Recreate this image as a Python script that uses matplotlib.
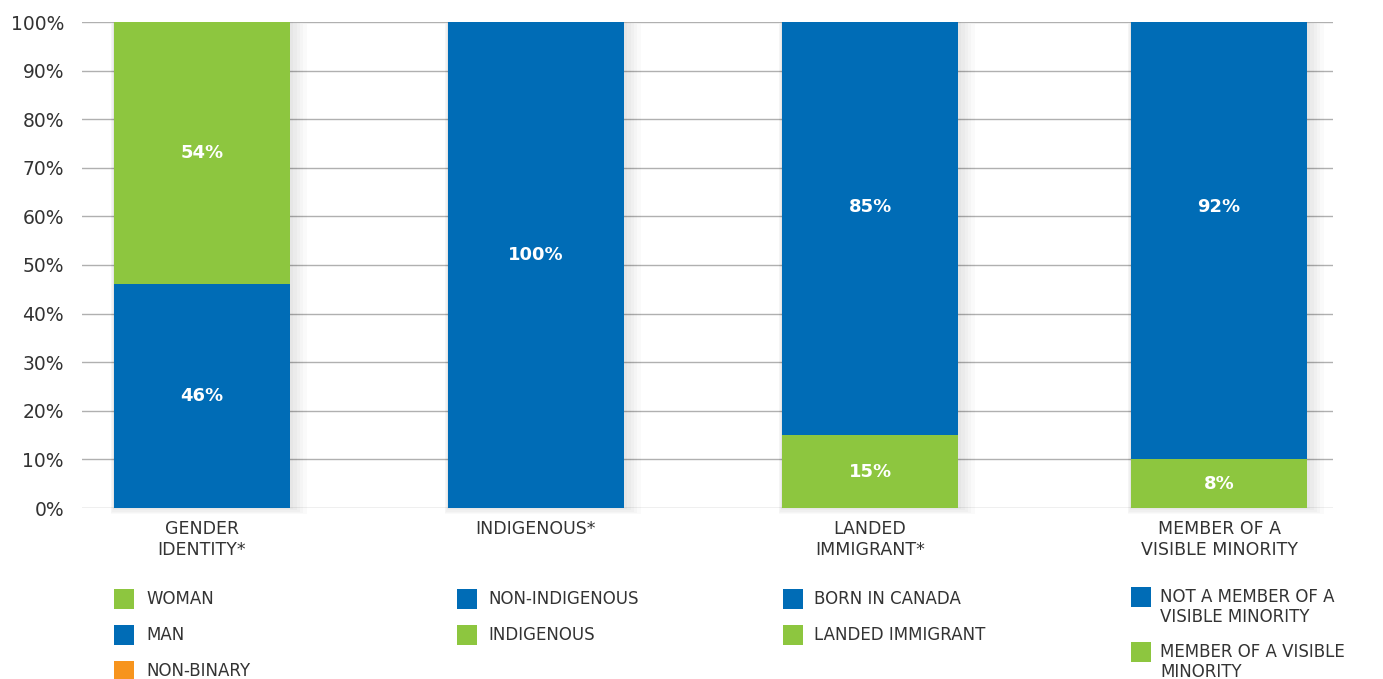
import numpy as np
import matplotlib.pyplot as plt
from matplotlib.patches import Rectangle

plt.rcParams['font.family'] = ['DejaVu Sans']

BLUE = '#006cb6'
GREEN = '#8dc63f'
ORANGE = '#f7941d'

categories = ['GENDER\nIDENTITY*', 'INDIGENOUS*', 'LANDED\nIMMIGRANT*', 'MEMBER OF A\nVISIBLE MINORITY']

# lower and upper segment of each stacked bar (as drawn)
bottom_vals = [46, 100, 15, 10]
top_vals = [54, 0, 85, 90]
bottom_colors = [BLUE, BLUE, GREEN, GREEN]
top_colors = [GREEN, GREEN, BLUE, BLUE]
bottom_labels = ['46%', '100%', '15%', '8%']
top_labels = ['54%', '', '85%', '92%']

legend_items = [
    [('WOMAN', GREEN), ('MAN', BLUE), ('NON-BINARY', ORANGE)],
    [('NON-INDIGENOUS', BLUE), ('INDIGENOUS', GREEN)],
    [('BORN IN CANADA', BLUE), ('LANDED IMMIGRANT', GREEN)],
    [('NOT A MEMBER OF A\nVISIBLE MINORITY', BLUE), ('MEMBER OF A VISIBLE\nMINORITY', GREEN)],
]

W, H = 1383, 679
fig = plt.figure(figsize=(W / 100, H / 100), dpi=100)
ax = fig.add_axes([82 / W, 1 - 508 / H, (1333 - 82) / W, (508 - 22) / H])

x = np.array([0, 1, 2, 3.045])
bw = 0.527

# soft shadow behind the bars
tot = np.array(bottom_vals) + np.array(top_vals)
for k in range(1, 6):
    ax.bar(x + 0.004 * k, tot + 0.15 * k, bw + 0.012 * k, bottom=-0.25 * k,
           color='black', alpha=0.018, lw=0, zorder=2, clip_on=False)

ax.bar(x, bottom_vals, bw, color=bottom_colors, zorder=3)
ax.bar(x, top_vals, bw, bottom=bottom_vals, color=top_colors, zorder=3)

for i in range(len(x)):
    b = bottom_vals[i]
    t = top_vals[i]
    yb = b / 2 if b < 60 else 52
    ax.text(x[i], yb, bottom_labels[i], ha='center', va='center',
            color='white', fontsize=13, fontweight='bold', zorder=4)
    if top_labels[i]:
        yt = b + t / 2 if t < 60 else 62
        ax.text(x[i], yt, top_labels[i], ha='center', va='center',
                color='white', fontsize=13, fontweight='bold', zorder=4)

ax.set_xlim(-0.359, 3.386)
ax.set_ylim(0, 100)
ax.set_yticks(range(0, 101, 10))
ax.set_yticklabels([f'{v}%' for v in range(0, 101, 10)])
ax.yaxis.grid(True, color='#b0b0b0', linewidth=1, zorder=0)
ax.set_axisbelow(True)
ax.tick_params(axis='y', length=0, labelsize=13.5, labelcolor='#333333', pad=13)
ax.set_xticks(x)
ax.set_xticklabels(categories, fontsize=12.5, color='#333333', linespacing=1.2, va='top')
ax.tick_params(axis='x', length=0, pad=9)
for s in ax.spines.values():
    s.set_visible(False)

# legend blocks under each bar
sq_x = [114, 457, 783, 1131]
txt_x = [146, 488, 814, 1160]
row_y = [[599, 635, 671], [599, 635], [599, 635], [607, 662]]
sq = 20
for c, items in enumerate(legend_items):
    for r, (lab, col) in enumerate(items):
        yc = row_y[c][r]
        sy = yc - 10 if '\n' in lab else yc
        fig.add_artist(Rectangle((sq_x[c] / W, 1 - (sy + sq / 2) / H), sq / W, sq / H,
                                 transform=fig.transFigure, color=col, lw=0))
        fig.text(txt_x[c] / W, 1 - yc / H, lab, ha='left', va='center',
                 fontsize=12, color='#333333', linespacing=1.15)

fig.savefig('out.png', dpi=100)
